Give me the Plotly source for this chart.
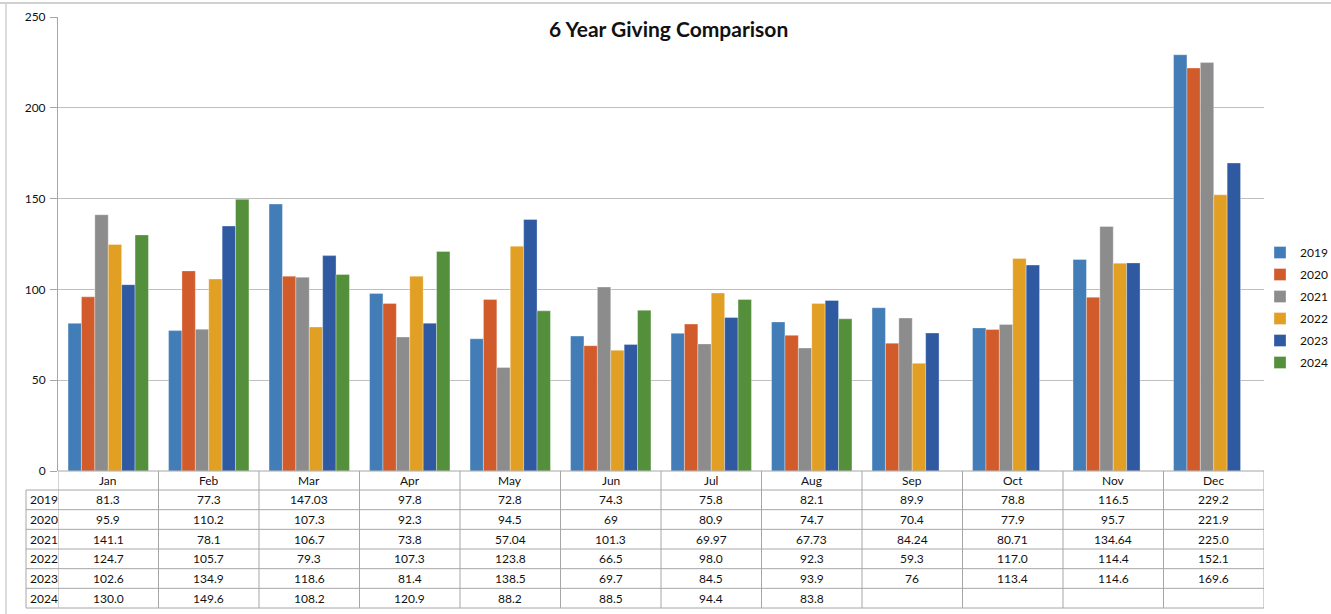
import plotly.graph_objects as go

months = ["Jan", "Feb", "Mar", "Apr", "May", "Jun", "Jul", "Aug", "Sep", "Oct", "Nov", "Dec"]
years = ["2019", "2020", "2021", "2022", "2023", "2024"]

# Displayed table values (also drive the bars)
v2019 = ["81.3", "77.3", "147.03", "97.8", "72.8", "74.3", "75.8", "82.1", "89.9", "78.8", "116.5", "229.2"]
v2020 = ["95.9", "110.2", "107.3", "92.3", "94.5", "69", "80.9", "74.7", "70.4", "77.9", "95.7", "221.9"]
v2021 = ["141.1", "78.1", "106.7", "73.8", "57.04", "101.3", "69.97", "67.73", "84.24", "80.71", "134.64", "225.0"]
v2022 = ["124.7", "105.7", "79.3", "107.3", "123.8", "66.5", "98.0", "92.3", "59.3", "117.0", "114.4", "152.1"]
v2023 = ["102.6", "134.9", "118.6", "81.4", "138.5", "69.7", "84.5", "93.9", "76", "113.4", "114.6", "169.6"]
v2024 = ["130.0", "149.6", "108.2", "120.9", "88.2", "88.5", "94.4", "83.8", "", "", "", ""]

series = [v2019, v2020, v2021, v2022, v2023, v2024]
colors = ["#437DB7", "#D15B2B", "#8C8C8C", "#E19F24", "#2F5AA2", "#548F3B"]

W, H = 1331, 614
L, R, T, B = 58, 1264, 17, 471  # plot area in pixels

def px(xp):
    return (xp - L) / (R - L)

def py(yp):
    return (B - yp) / (B - T)

FONT = "Lato"
fig = go.Figure()
for yr, vals, c in zip(years, series, colors):
    fig.add_trace(go.Bar(
        x=months, y=[float(s) if s else None for s in vals], name=yr,
        marker=dict(color=c, line=dict(color="rgba(255,255,255,0.55)", width=0.6)),
        legendgroup=yr,
    ))

shapes = []
line_c = "#A6A6A6"
# table geometry
hdr_bot = 490
row_h = (608 - hdr_bot) / 6
tbl_left = 26
shapes.append(dict(type="line", xref="paper", yref="paper", x0=px(L), x1=px(R), y0=py(B), y1=py(B),
                   line=dict(color=line_c, width=1)))
for i in range(7):
    yy = hdr_bot + i * row_h
    shapes.append(dict(type="line", xref="paper", yref="paper", x0=px(tbl_left), x1=px(R), y0=py(yy), y1=py(yy),
                       line=dict(color=line_c, width=1)))
shapes.append(dict(type="line", xref="paper", yref="paper", x0=px(tbl_left), x1=px(tbl_left),
                   y0=py(hdr_bot), y1=py(608), line=dict(color=line_c, width=1)))
for k in range(13):
    shapes.append(dict(type="line", xref="x", yref="paper", x0=k - 0.5, x1=k - 0.5,
                       y0=py(B), y1=py(608), line=dict(color=line_c, width=1)))
# outer chart border
shapes.append(dict(type="line", xref="paper", yref="paper", x0=px(0), x1=px(W), y0=py(3), y1=py(3),
                   line=dict(color="#D0D0D0", width=2)))
shapes.append(dict(type="line", xref="paper", yref="paper", x0=px(6), x1=px(6), y0=py(3), y1=py(614),
                   line=dict(color="#D0D0D0", width=1.5)))

ann = []
tfont = dict(family=FONT, size=12, color="#111111")
for k, m in enumerate(months):
    ann.append(dict(x=k, y=py((B + hdr_bot) / 2), xref="x", yref="paper", text=m, showarrow=False,
                    font=tfont, xanchor="center", yanchor="middle"))
for i, (yr, vals) in enumerate(zip(years, series)):
    yc = hdr_bot + (i + 0.5) * row_h
    ann.append(dict(x=px(tbl_left + 2), y=py(yc), xref="paper", yref="paper", text=yr, showarrow=False,
                    font=tfont, xanchor="left", yanchor="middle"))
    for k, s in enumerate(vals):
        if s:
            ann.append(dict(x=k, y=py(yc), xref="x", yref="paper", text=s, showarrow=False,
                            font=tfont, xanchor="center", yanchor="middle"))
ann.append(dict(x=px(668), y=py(29), xref="paper", yref="paper", text="<b>6 Year Giving Comparison</b>",
                showarrow=False, font=dict(family=FONT, size=21, color="#111111"),
                xanchor="center", yanchor="middle"))

fig.update_layout(
    width=W, height=H, autosize=False,
    margin=dict(l=L, r=W - R, t=T, b=H - B, pad=0, autoexpand=False),
    paper_bgcolor="white", plot_bgcolor="white",
    barmode="group", bargap=0.2, bargroupgap=0,
    font=dict(family=FONT, size=11, color="#111111"),
    xaxis=dict(range=[-0.5, 11.5], showticklabels=False, ticks="", showgrid=False,
               showline=False, zeroline=False, fixedrange=True),
    yaxis=dict(range=[0, 250], dtick=50, showgrid=True, gridcolor="#BFBFBF", gridwidth=1,
               showline=True, linecolor="#A6A6A6", linewidth=1, ticks="outside", ticklen=7,
               tickcolor="#A6A6A6", zeroline=False, tickfont=dict(family=FONT, size=12, color="#111111"),
               ticklabelstandoff=2),
    legend=dict(xref="container", yref="container", x=1260 / W, y=1 - 238 / H,
                xanchor="left", yanchor="top", font=dict(family=FONT, size=12),
                tracegroupgap=3, itemwidth=30, bgcolor="rgba(0,0,0,0)"),
    shapes=shapes, annotations=ann,
)

fig.write_html("out.html",
               config={"responsive": False, "displayModeBar": False},
               post_script="document.body.style.margin='0';document.body.style.overflow='hidden';")
